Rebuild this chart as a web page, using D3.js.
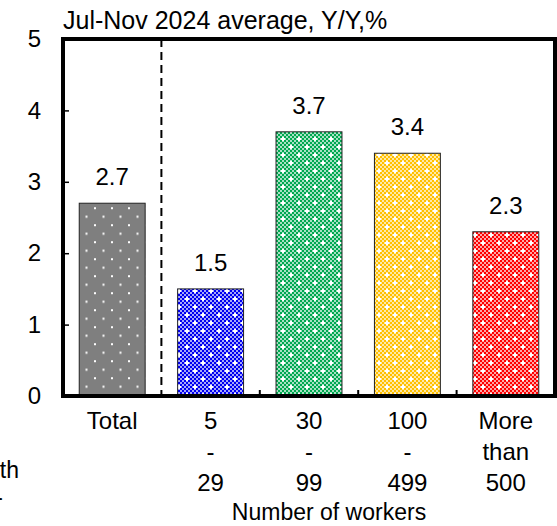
<!DOCTYPE html>
<html>
<head>
<meta charset="utf-8">
<script src="https://cdn.jsdelivr.net/npm/d3@7"></script>
<style>
  html, body { margin: 0; padding: 0; background: #fff; }
  svg { display: block; font-family: "Liberation Sans", Arial, sans-serif; }
</style>
</head>
<body>
<svg id="chart" width="557" height="526"></svg>
<script>
// Wage growth by establishment size, Jul-Nov 2024 average (Y/Y, %)
const categories = ["Total", "5-29", "30-99", "100-499", "More than 500"];
const tickLines = [["Total"], ["5", "-", "29"], ["30", "-", "99"], ["100", "-", "499"], ["More", "than", "500"]];
const values = [2.7, 1.5, 3.7, 3.4, 2.3];
const barColors = ["#7f7f7f", "#0000f0", "#00a850", "#ffc000", "#ff0000"];
const yTicks = [0, 1, 2, 3, 4, 5];
const titleText = "Jul-Nov 2024 average, Y/Y,%";
const xTitle = "Number of workers";

const svg = d3.select("#chart");
const m = { left: 63, right: 555, top: 39, bottom: 396 };

const x = d3.scaleBand().domain(categories).range([m.left, m.right]).paddingInner(0.33).paddingOuter(0.165);
const band = d3.scaleBand().domain(categories).range([m.left, m.right]).padding(0);
const y = d3.scaleLinear().domain([0, 5]).range([m.bottom, m.top]);

const defs = svg.append("defs");

// Dotted fill for the total bar
const pd = defs.append("pattern").attr("id", "p0").attr("patternUnits", "userSpaceOnUse")
  .attr("width", 17).attr("height", 17).attr("x", 0).attr("y", y(2.7) + 4);
pd.append("rect").attr("width", 17).attr("height", 17).attr("fill", barColors[0]);
pd.append("rect").attr("x", 9).attr("y", 0).attr("width", 2).attr("height", 2).attr("fill", "#fff");
pd.append("rect").attr("x", 0.5).attr("y", 8.5).attr("width", 2).attr("height", 2).attr("fill", "#fff");

// Checkered fills with white crosses for the size classes
barColors.slice(1).forEach((c, i) => {
  const p = defs.append("pattern").attr("id", "p" + (i + 1)).attr("patternUnits", "userSpaceOnUse")
    .attr("width", 16).attr("height", 16);
  p.append("rect").attr("width", 16).attr("height", 16).attr("fill", "#fff");
  for (let r = 0; r < 8; r++) {
    for (let k = 0; k < 8; k++) {
      if ((r + k) % 2 === 0) {
        p.append("rect").attr("x", k * 2).attr("y", r * 2).attr("width", 2).attr("height", 2).attr("fill", c);
      }
    }
  }
  p.append("rect").attr("x", 0).attr("y", 0).attr("width", 16).attr("height", 16).attr("fill", c).attr("opacity", 0.35);
  [[3, 3], [11, 11]].forEach(([cx, cy]) => {
    p.append("rect").attr("x", cx - 1).attr("y", cy - 2).attr("width", 2).attr("height", 4).attr("fill", "#fff");
    p.append("rect").attr("x", cx - 2).attr("y", cy - 1).attr("width", 4).attr("height", 2).attr("fill", "#fff");
  });
});

// Bars
svg.append("g").selectAll("rect").data(values).join("rect")
  .attr("x", (d, i) => x(categories[i]))
  .attr("y", d => y(d))
  .attr("width", x.bandwidth())
  .attr("height", d => y(0) - y(d))
  .attr("fill", (d, i) => `url(#p${i})`)
  .attr("stroke", "#222").attr("stroke-width", 1);

// Value labels
svg.append("g").selectAll("text").data(values).join("text")
  .attr("x", (d, i) => x(categories[i]) + x.bandwidth() / 2)
  .attr("y", d => y(d) - 18)
  .attr("text-anchor", "middle")
  .attr("font-size", 24)
  .text(d => d.toFixed(1));

// Dashed divider between total and size classes
svg.append("line")
  .attr("x1", band(categories[1])).attr("x2", band(categories[1]))
  .attr("y1", m.top).attr("y2", m.bottom)
  .attr("stroke", "#000").attr("stroke-width", 2).attr("stroke-dasharray", "8,5");

// Category boundary ticks along the bottom
svg.append("g").selectAll("line").data(categories.slice(2)).join("line")
  .attr("x1", d => band(d)).attr("x2", d => band(d))
  .attr("y1", m.bottom).attr("y2", m.bottom - 6)
  .attr("stroke", "#000").attr("stroke-width", 2);

// Y axis with inward ticks
const yAxis = svg.append("g").attr("transform", `translate(${m.left},0)`)
  .call(d3.axisLeft(y).tickValues(yTicks).tickSize(-6).tickPadding(22).tickFormat(d3.format("d")));
yAxis.select(".domain").remove();
yAxis.selectAll(".tick line").attr("stroke", "#000").attr("stroke-width", 1.5)
  .filter(d => d === 0 || d === 5).remove();
yAxis.selectAll(".tick text").attr("font-size", 24).attr("fill", "#000")
  .attr("font-family", "Liberation Sans, Arial, sans-serif");

// Plot frame
svg.append("rect")
  .attr("x", m.left).attr("y", m.top)
  .attr("width", m.right - m.left).attr("height", m.bottom - m.top)
  .attr("fill", "none").attr("stroke", "#000").attr("stroke-width", 4);

// Title
svg.append("text").attr("x", m.left).attr("y", 29).attr("font-size", 25).text(titleText);

// Category labels
const xl = svg.append("g").selectAll("text").data(tickLines).join("text")
  .attr("x", (d, i) => band(categories[i]) + band.bandwidth() / 2)
  .attr("y", 429)
  .attr("text-anchor", "middle")
  .attr("font-size", 24);
xl.selectAll("tspan").data(d => d).join("tspan")
  .attr("x", function () { return d3.select(this.parentNode).attr("x"); })
  .attr("dy", (d, i) => i === 0 ? 0 : 31)
  .text(d => d);

// Axis title
svg.append("text").attr("x", 329).attr("y", 520).attr("text-anchor", "middle")
  .attr("font-size", 23).text(xTitle);

// Side note running off the left edge
const note = svg.append("text").attr("font-size", 23).attr("text-anchor", "end");
note.append("tspan").attr("x", 19).attr("y", 478).text("Wage growth");
note.append("tspan").attr("x", 3).attr("y", 505).text("-");
</script>
</body>
</html>
